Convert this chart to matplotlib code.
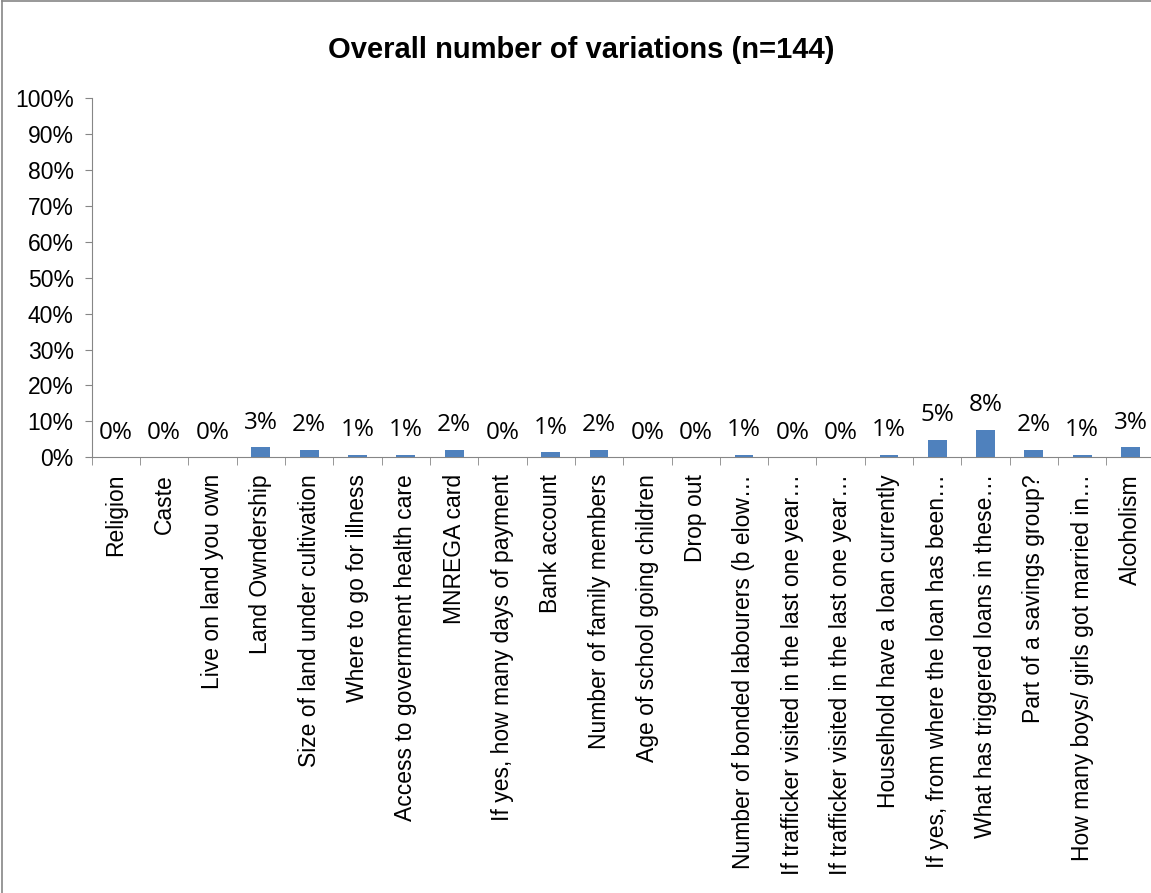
import matplotlib.pyplot as plt
import matplotlib.lines as mlines
import numpy as np

plt.rcParams['font.family'] = ['Liberation Sans', 'DejaVu Sans']

categories = [
    "Religion", "Caste", "Live on land you own", "Land Owndership",
    "Size of land under cultivation", "Where to go for illness",
    "Access to government health care", "MNREGA card",
    "If yes, how many days of payment", "Bank account",
    "Number of family members", "Age of school going children", "Drop out",
    "Number of bonded labourers (b elow\u2026",
    "If trafficker visited in the last one year\u2026",
    "If trafficker visited in the last one year\u2026",
    "Houselhold have a loan currently",
    "If yes, from where the loan has been\u2026",
    "What has triggered loans in these\u2026",
    "Part of a savings group?",
    "How many boys/ girls got married in\u2026",
    "Alcoholism",
]
# counts out of n=144
counts = [0, 0, 0, 4, 3, 1, 1, 3, 0, 2, 3, 0, 0, 1, 0, 0, 1, 7, 11, 3, 1, 4]
n_total = 144
shares = np.array(counts) / n_total * 100

fig = plt.figure(figsize=(11.51, 8.93), dpi=100)
ax = fig.add_axes([0.0797, 0.488, 0.9235, 0.402])

x = np.arange(len(categories))
ax.bar(x, shares, width=0.39, color='#4F81BD', zorder=3)

for xi, v in zip(x, shares):
    ax.annotate(f"{v:.0f}%", (xi, v), xytext=(0, 9), textcoords='offset points',
                ha='center', va='bottom', fontsize=17.5, family=['Open Sans', 'DejaVu Sans'])

ax.set_xlim(-0.5, len(categories) - 0.5)
ax.set_ylim(0, 100)
ax.set_yticks(np.arange(0, 101, 10))
ax.set_yticklabels([f"{t}%" for t in range(0, 101, 10)], fontsize=16.5)
ax.set_xticks(x)
ax.set_xticklabels(categories, rotation=90, fontsize=16.5)
ax.tick_params(axis='x', length=0, pad=12)
ax.set_xticks(np.arange(-0.5, len(categories)), minor=True)
ax.tick_params(axis='x', which='minor', length=6, color='#868686', direction='out')
ax.tick_params(axis='y', length=5, color='#868686', direction='out', pad=8)

for s in ['top', 'right']:
    ax.spines[s].set_visible(False)
for s in ['left', 'bottom']:
    ax.spines[s].set_color('#868686')

fig.text(0.505, 0.944, "Overall number of variations (n=144)", ha='center', va='center',
         fontsize=21, fontweight='bold')

# chart frame (left and top edges visible in the original)
fig.add_artist(mlines.Line2D([0.0015, 0.0015], [0, 0.9985], transform=fig.transFigure,
                             color='#868686', lw=1.2))
fig.add_artist(mlines.Line2D([0.0015, 1], [0.9985, 0.9985], transform=fig.transFigure,
                             color='#868686', lw=1.2))

fig.savefig('out.png', dpi=100)
